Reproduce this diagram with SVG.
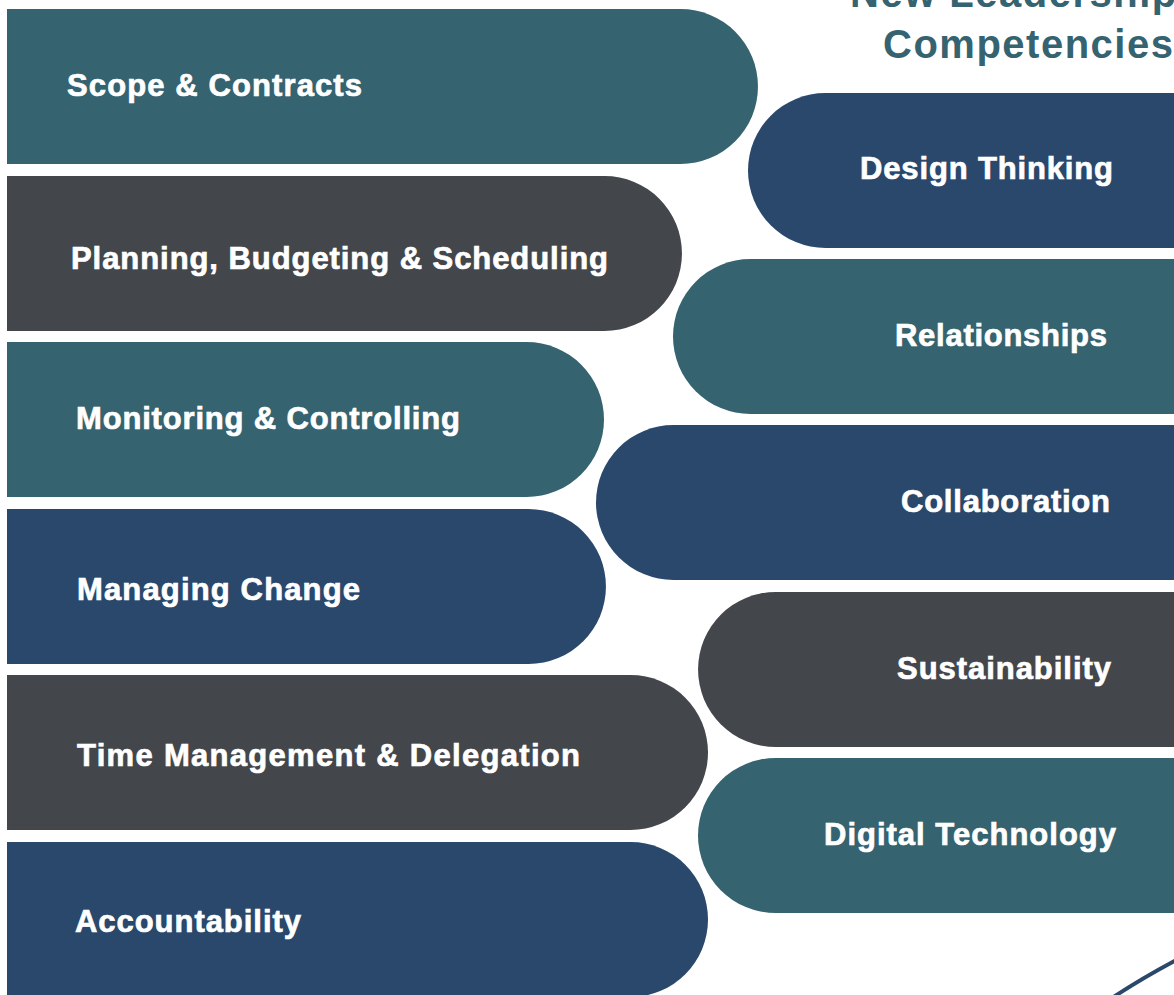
<svg xmlns="http://www.w3.org/2000/svg" width="1174" height="995" viewBox="0 0 1174 995">
<style>
.teal{fill:#35636f}.grey{fill:#43474b}.navy{fill:#2a486b}
.lbl{font-family:"Liberation Sans",Arial,sans-serif;font-weight:bold;font-size:31px;fill:#fff;stroke:#fff;stroke-width:0.7px}
.title{font-family:"Liberation Sans",Arial,sans-serif;font-weight:bold;font-size:40px;letter-spacing:1.5px;fill:#35636f}
</style>
<rect width="1174" height="995" fill="#fff"/>
<g id="title">
<text class="title" x="850" y="7">New Leadership</text>
<text class="title" x="883" y="58">Competencies</text>
</g>
<g id="n-scope"><path class="teal" d="M7 9H680.5A77.5 77.5 0 0 1 680.5 164H7Z"/><text class="lbl" x="67" y="96" textLength="295" lengthAdjust="spacing">Scope &amp; Contracts</text></g>
<g id="n-planning"><path class="grey" d="M7 176H604.5A77.5 77.5 0 0 1 604.5 331H7Z"/><text class="lbl" x="71" y="269" textLength="537" lengthAdjust="spacing">Planning, Budgeting &amp; Scheduling</text></g>
<g id="n-monitoring"><path class="teal" d="M7 342H526.5A77.5 77.5 0 0 1 526.5 497H7Z"/><text class="lbl" x="76" y="429" textLength="384" lengthAdjust="spacing">Monitoring &amp; Controlling</text></g>
<g id="n-managing"><path class="navy" d="M7 509H528.5A77.5 77.5 0 0 1 528.5 664H7Z"/><text class="lbl" x="77" y="600" textLength="283" lengthAdjust="spacing">Managing Change</text></g>
<g id="n-time"><path class="grey" d="M7 675H630.5A77.5 77.5 0 0 1 630.5 830H7Z"/><text class="lbl" x="77" y="766" textLength="503" lengthAdjust="spacing">Time Management &amp; Delegation</text></g>
<g id="n-accountability"><path class="navy" d="M7 842H630.5A77.5 77.5 0 0 1 630.5 997H7Z"/><text class="lbl" x="75" y="932" textLength="226" lengthAdjust="spacing">Accountability</text></g>
<g id="n-design"><path class="navy" d="M1180 93H825.5A77.5 77.5 0 0 0 825.5 248H1180Z"/><text class="lbl" x="860" y="179" textLength="253" lengthAdjust="spacing">Design Thinking</text></g>
<g id="n-relationships"><path class="teal" d="M1180 259H750.5A77.5 77.5 0 0 0 750.5 414H1180Z"/><text class="lbl" x="895" y="346" textLength="212" lengthAdjust="spacing">Relationships</text></g>
<g id="n-collaboration"><path class="navy" d="M1180 425H673.5A77.5 77.5 0 0 0 673.5 580H1180Z"/><text class="lbl" x="901" y="512" textLength="209" lengthAdjust="spacing">Collaboration</text></g>
<g id="n-sustainability"><path class="grey" d="M1180 592H775.5A77.5 77.5 0 0 0 775.5 747H1180Z"/><text class="lbl" x="897" y="679" textLength="214" lengthAdjust="spacing">Sustainability</text></g>
<g id="n-digital"><path class="teal" d="M1180 758H775.5A77.5 77.5 0 0 0 775.5 913H1180Z"/><text class="lbl" x="824" y="845" textLength="292" lengthAdjust="spacing">Digital Technology</text></g>
<g id="connectors">
<path d="M1112 998Q1142 978 1180 958" fill="none" stroke="#2a486b" stroke-width="4"/>
</g>
</svg>
